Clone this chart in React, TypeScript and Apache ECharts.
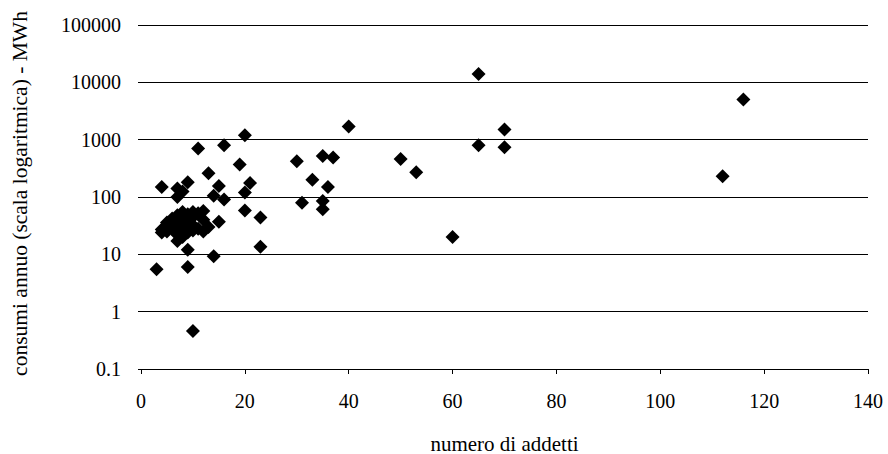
import React, { useEffect, useRef } from "react";
import * as echarts from "echarts";

// numero di addetti (x) and consumi annuo MWh (y)
const employees = [
  4, 11, 16, 20, 19, 13, 9, 7, 15, 21, 20, 7, 8, 14, 16, 20, 23, 23, 15, 12,
  9, 14, 3, 9, 10,
  40, 30, 35, 37, 33, 36, 31, 35, 35, 50, 53, 65, 116, 70, 65, 70, 112, 60,
  4, 4, 5, 5, 5, 6, 6, 6, 7, 7, 7, 7, 7, 8, 8, 8, 8, 8, 9, 9, 9, 9, 10, 10,
  10, 10, 11, 11, 12, 12, 13,
];
const consumption = [
  150, 700, 800, 1200, 370, 260, 180, 140, 155, 175, 120, 100, 125, 105, 90,
  58, 44, 13.5, 37, 25, 12, 9.3, 5.5, 6, 0.46,
  1700, 420, 520, 490, 200, 150, 79, 85, 61, 460, 270, 14000, 5000, 1500, 800,
  740, 230, 20,
  24, 27, 30, 36, 25, 28, 33, 42, 17, 22, 28, 35, 48, 20, 26, 32, 42, 55, 24,
  30, 38, 50, 26, 32, 45, 55, 28, 52, 40, 57, 30,
];

const xMin = 0;
const xMax = 140;
const xInterval = 20;
const yTickLabels = ["0.1", "1", "10", "100", "1000", "10000", "100000"];
const xTitle = "numero di addetti";
const yTitle = "consumi annuo (scala logaritmica) - MWh";

export default function App() {
  const ref = useRef<HTMLDivElement>(null);
  useEffect(() => {
    if (!ref.current) return;
    const chart = echarts.init(ref.current, null, { renderer: "svg" });
    const font = "Liberation Serif";
    const data = employees.map((x, i) => [x, consumption[i]]);
    chart.setOption({
      animation: false,
      backgroundColor: "#ffffff",
      grid: {
        left: 141,
        right: 20,
        top: 25,
        bottom: 85,
        containLabel: false,
        outerBoundsMode: "none",
      },
      xAxis: {
        type: "value",
        min: xMin,
        max: xMax,
        interval: xInterval,
        name: xTitle,
        nameLocation: "middle",
        nameGap: 64,
        nameTextStyle: { fontFamily: font, fontSize: 21, color: "#000" },
        axisLine: { show: true, lineStyle: { color: "#000", width: 1 } },
        axisTick: { show: true, length: 5, inside: false, lineStyle: { color: "#000" } },
        axisLabel: { fontFamily: font, fontSize: 20, color: "#000", margin: 22 },
        splitLine: { show: false },
      },
      yAxis: {
        type: "log",
        logBase: 10,
        min: 0.1,
        max: 100000,
        name: yTitle,
        nameLocation: "middle",
        nameRotate: 90,
        nameGap: 110,
        nameTextStyle: {
          fontFamily: font,
          fontSize: 21.5,
          color: "#000",
          padding: [0, 0, 0, 7],
        },
        axisLine: { show: false },
        axisTick: { show: true, length: 3, inside: false, lineStyle: { color: "#000" } },
        axisLabel: {
          fontFamily: font,
          fontSize: 20,
          color: "#000",
          margin: 20,
          formatter: (_v: number, i: number) => yTickLabels[i] ?? "",
        },
        splitLine: { show: true, lineStyle: { color: "#000", width: 1 } },
      },
      series: [
        {
          type: "scatter",
          symbol: "diamond",
          symbolSize: 14,
          itemStyle: { color: "#000", opacity: 1 },
          data,
        },
      ],
    });
    return () => chart.dispose();
  }, []);
  return (
    <div
      ref={ref}
      style={{ position: "fixed", left: 0, top: 0, width: 888, height: 454 }}
    />
  );
}
